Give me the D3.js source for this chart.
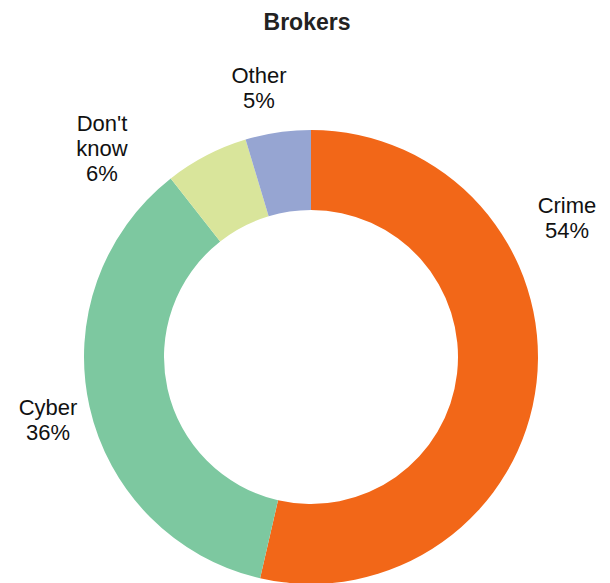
<!DOCTYPE html>
<html>
<head>
<meta charset="utf-8">
<script src="https://cdn.jsdelivr.net/npm/d3@7"></script>
<style>
  html, body { margin: 0; padding: 0; background: #fff; }
  svg { display: block; }
</style>
</head>
<body>
<div id="chart"></div>
<script>
const title = "Brokers";
const categories = ["Crime", "Cyber", "Don't know", "Other"];
const values = [53.6, 35.8, 5.95, 4.65];
const labelLines = [["Crime", "54%"], ["Cyber", "36%"], ["Don't", "know", "6%"], ["Other", "5%"]];
const colors = ["#F26718", "#7DC8A0", "#D9E59B", "#96A5D2"];

const W = 610, H = 583;
const cx = 311, cy = 357, R = 227, r = 147;
// label anchor (center x, first baseline y) relative to donut center
const labelOffsets = [[256, -144], [-263, 58], [-209, -226], [-52, -274]];

const svg = d3.select("#chart").append("svg")
  .attr("width", W).attr("height", H);

svg.append("text")
  .attr("x", 307).attr("y", 30)
  .attr("text-anchor", "middle")
  .style("font-family", "'Liberation Sans', Arial, sans-serif")
  .style("font-weight", "bold")
  .style("font-size", "23px")
  .attr("fill", "#222")
  .text(title);

const data = categories.map((c, i) => ({ cat: c, value: values[i], i }));
const pie = d3.pie().value(d => d.value).sort(null);
const arc = d3.arc().innerRadius(r).outerRadius(R);

const g = svg.append("g").attr("transform", `translate(${cx},${cy})`);
g.selectAll("path").data(pie(data)).join("path")
  .attr("d", arc)
  .attr("fill", d => colors[d.data.i]);

const lg = g.selectAll("text.lbl").data(data).join("text")
  .attr("class", "lbl")
  .attr("text-anchor", "middle")
  .style("font-family", "'Liberation Sans', Arial, sans-serif")
  .style("font-size", "22px")
  .attr("fill", "#111")
  .attr("x", d => labelOffsets[d.i][0])
  .attr("y", d => labelOffsets[d.i][1]);
lg.each(function(d) {
  const t = d3.select(this);
  labelLines[d.i].forEach((line, k) => {
    t.append("tspan")
      .attr("x", labelOffsets[d.i][0])
      .attr("y", labelOffsets[d.i][1] + k * 25)
      .text(line);
  });
});
</script>
</body>
</html>
